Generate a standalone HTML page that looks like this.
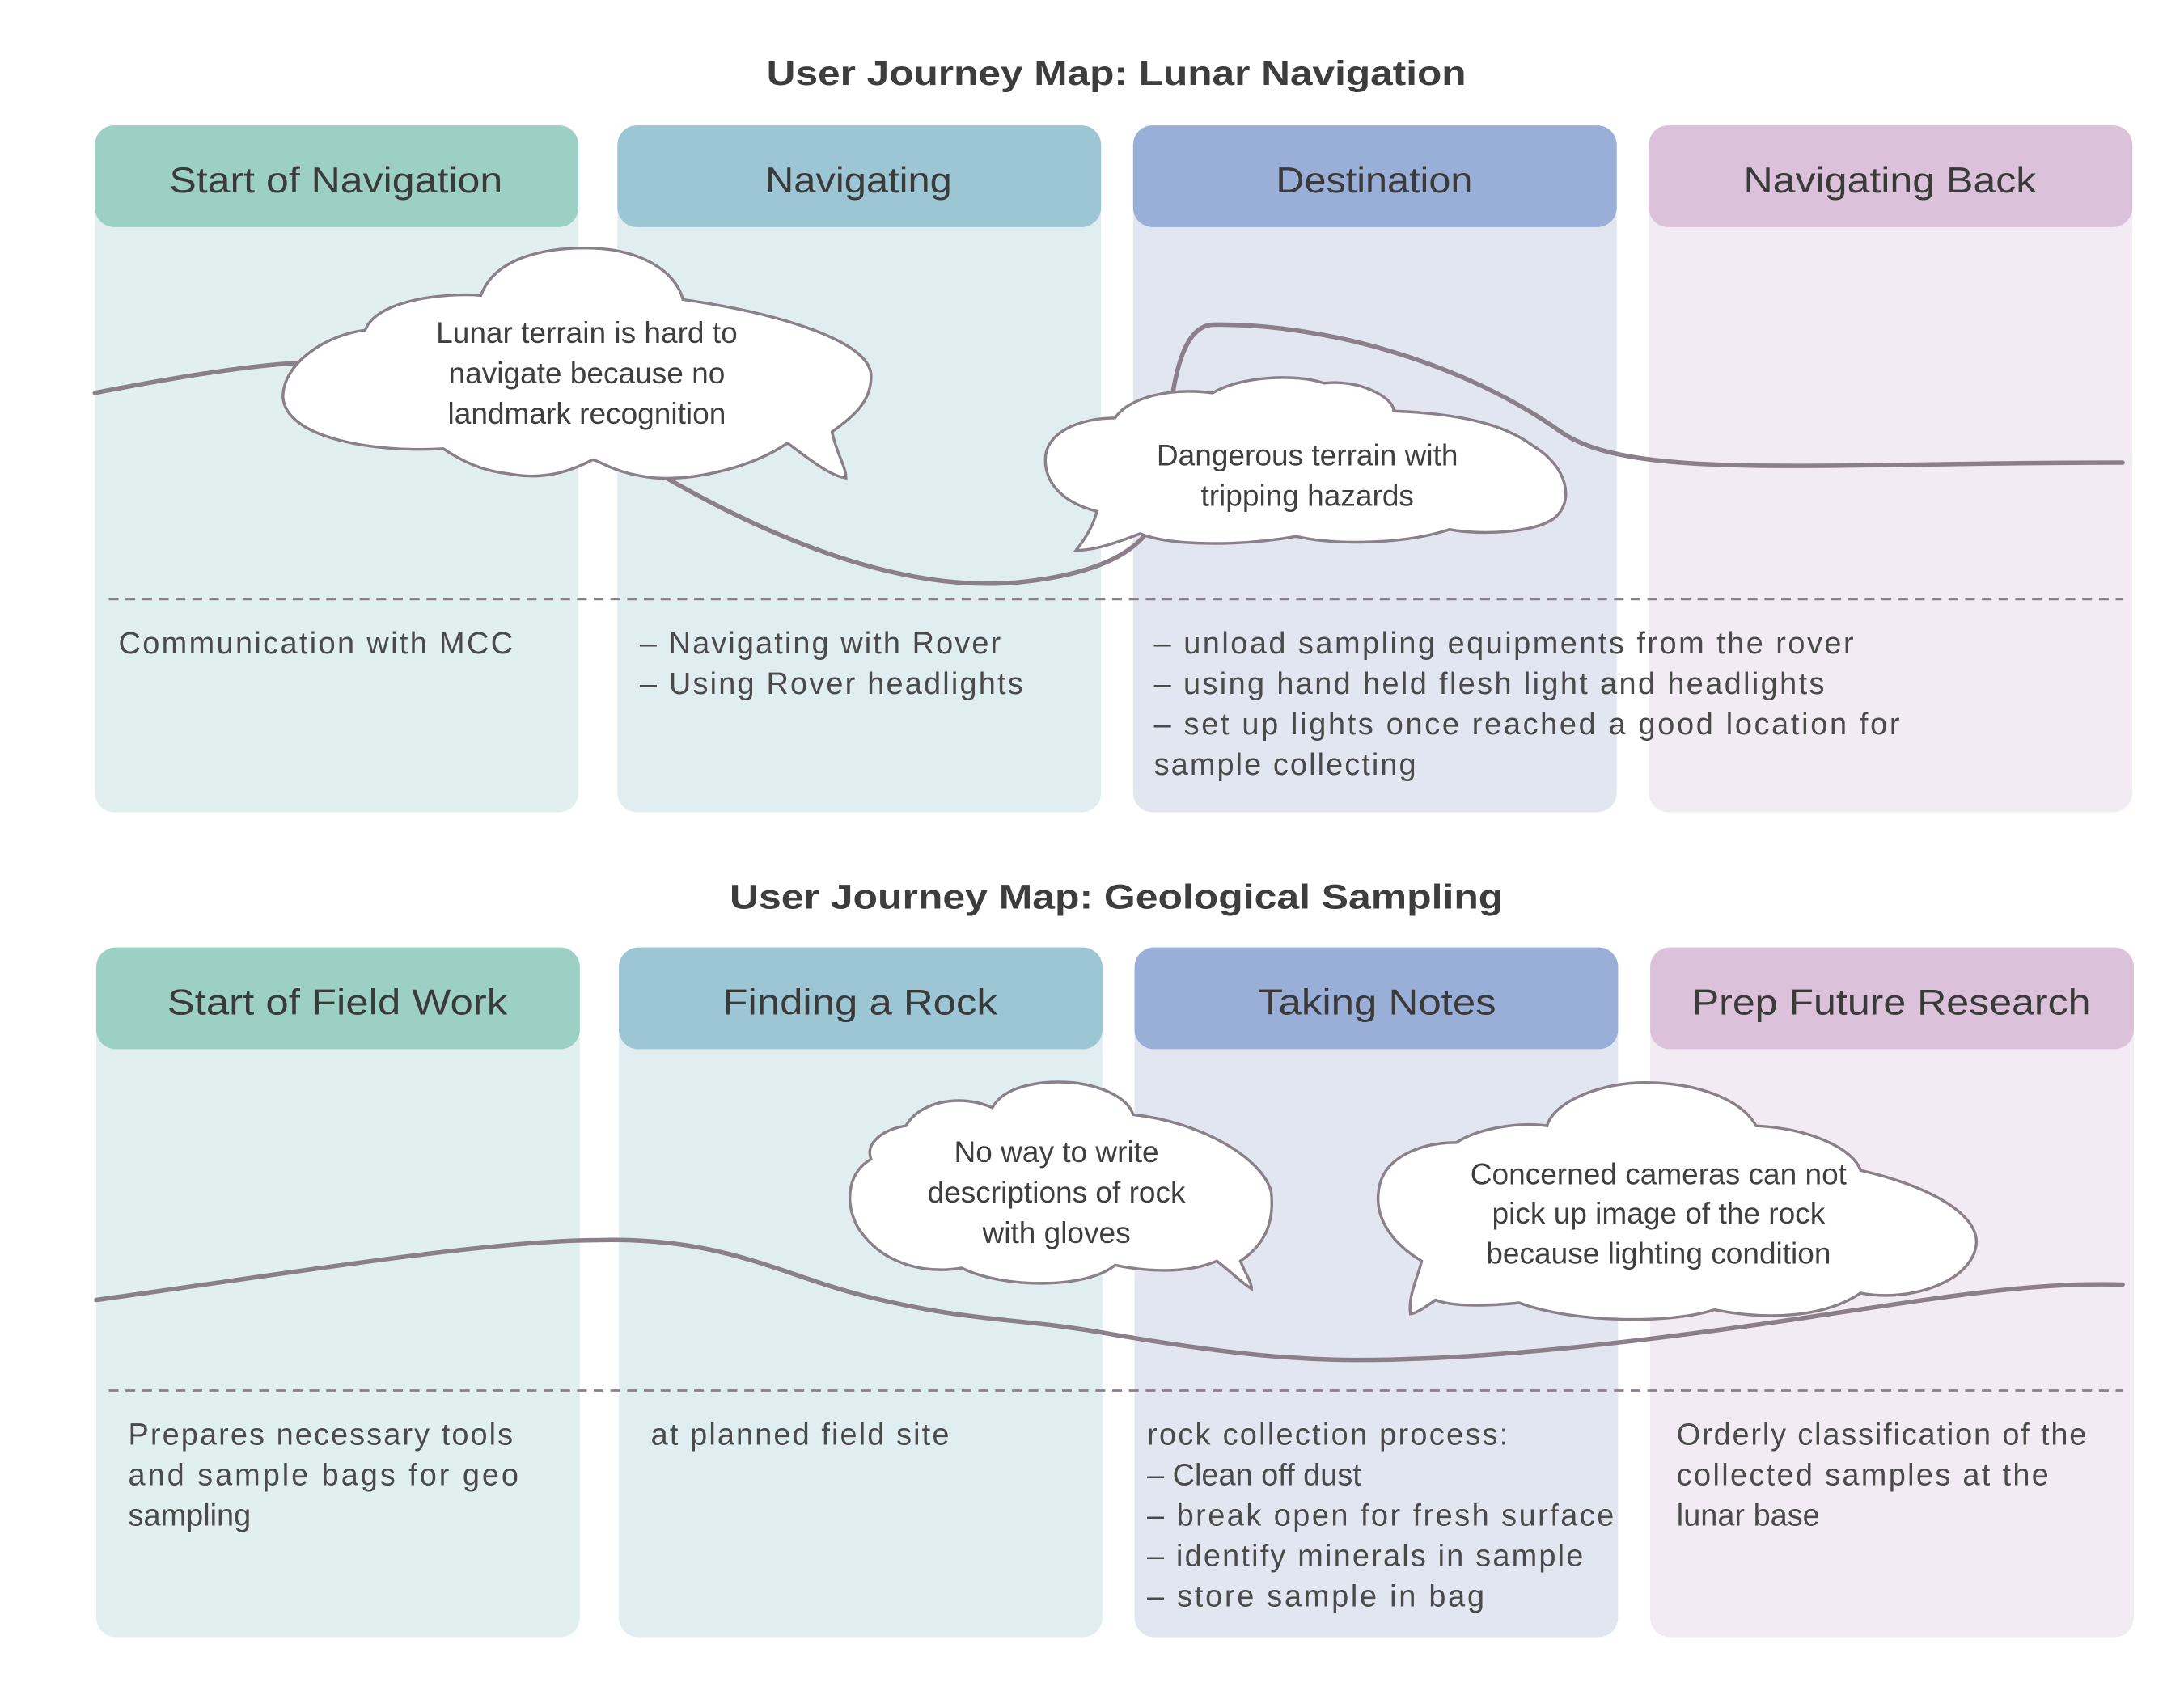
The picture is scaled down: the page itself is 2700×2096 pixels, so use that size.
<!DOCTYPE html>
<html><head><meta charset="utf-8"><style>
html,body{margin:0;padding:0;background:#fff;}
svg{display:block;}
text{font-family:"Liberation Sans",sans-serif;}
.t{font-weight:bold;font-size:25px;fill:#3d3d3d;text-anchor:middle;}
.h{font-size:26px;fill:#3a3a3a;text-anchor:middle;}
.b{font-size:22px;fill:#4a4a4a;}
.c{font-size:21.5px;fill:#3f3f3f;text-anchor:middle;}
.cv{fill:none;stroke:#8b7f8a;stroke-width:3.2;stroke-linecap:round;}
.cl{fill:#fff;stroke:#8b7f8a;stroke-width:2;}
.d{stroke:#8b7f8a;stroke-width:1.6;stroke-dasharray:7,5;}
</style></head><body>
<svg width="2700" height="2096" viewBox="0 0 1567 1216.5" xmlns="http://www.w3.org/2000/svg">
<!-- Row 1 -->
<text class="t" x="801" y="61" textLength="502" lengthAdjust="spacingAndGlyphs">User Journey Map: Lunar Navigation</text>
<rect x="68" y="90" width="347" height="493" rx="14" fill="#e1f0ee"/>
<rect x="443" y="90" width="347" height="493" rx="14" fill="#e0edf1"/>
<rect x="813" y="90" width="347" height="493" rx="14" fill="#e1e6f1"/>
<rect x="1183" y="90" width="347" height="493" rx="14" fill="#f2ebf3"/>
<rect x="68" y="90" width="347" height="73" rx="14" fill="#9dd0c4"/>
<rect x="443" y="90" width="347" height="73" rx="14" fill="#9dc6d4"/>
<rect x="813" y="90" width="347" height="73" rx="14" fill="#99afd8"/>
<rect x="1183" y="90" width="347" height="73" rx="14" fill="#dbc2da"/>
<text class="h" x="241" y="138" textLength="239" lengthAdjust="spacingAndGlyphs">Start of Navigation</text>
<text class="h" x="616" y="138" textLength="134" lengthAdjust="spacingAndGlyphs">Navigating</text>
<text class="h" x="986" y="138" textLength="141" lengthAdjust="spacingAndGlyphs">Destination</text>
<text class="h" x="1356" y="138" textLength="210" lengthAdjust="spacingAndGlyphs">Navigating Back</text>
<line class="d" x1="78" y1="430" x2="1523" y2="430"/>
<path class="cv" d="M68,282 C130,270 180,262 220,260 C300,255 400,300 478,343 C560,390 650,425 730,418 C790,412 820,395 830,370 C840,330 835,235 870,233 C950,232 1050,260 1120,310 C1170,345 1300,332 1523,332"/>
<path class="cl" d="M262,237 C270,215 320,210 345,212 C355,185 390,178 420,178 C460,178 485,195 490,215 C560,225 625,245 625,270 C625,290 610,300 597,310 C600,325 607,335 607,343 C595,342 575,325 565,318 C540,335 500,345 470,343 C440,340 430,330 425,330 C410,338 390,345 365,340 C345,338 330,330 318,322 C270,325 205,315 203,285 C203,260 235,240 262,237 Z"/>
<text class="c" x="421" y="246">Lunar terrain is hard to</text>
<text class="c" x="421" y="275">navigate because no</text>
<text class="c" x="421" y="304">landmark recognition</text>
<path class="cl" d="M800,300 C810,285 840,278 870,282 C890,270 930,268 950,275 C975,272 1000,285 1000,295 C1050,297 1080,305 1100,320 C1125,335 1130,360 1115,372 C1100,383 1060,384 1040,380 C1010,390 960,392 930,385 C890,392 840,392 818,383 C800,390 785,395 772,395 C780,385 785,375 787,367 C760,360 750,345 750,330 C750,310 775,300 800,300 Z"/>
<text class="c" x="938" y="334">Dangerous terrain with</text>
<text class="c" x="938" y="363">tripping hazards</text>
<text class="b" x="85" y="469" textLength="283" lengthAdjust="spacing">Communication with MCC</text>
<text class="b" x="459" y="469" textLength="259" lengthAdjust="spacing">– Navigating with Rover</text>
<text class="b" x="459" y="498" textLength="275" lengthAdjust="spacing">– Using Rover headlights</text>
<text class="b" x="828" y="469" textLength="502" lengthAdjust="spacing">– unload sampling equipments from the rover</text>
<text class="b" x="828" y="498" textLength="481" lengthAdjust="spacing">– using hand held flesh light and headlights</text>
<text class="b" x="828" y="527" textLength="535" lengthAdjust="spacing">– set up lights once reached a good location for</text>
<text class="b" x="828" y="556" textLength="188" lengthAdjust="spacing">sample collecting</text>

<!-- Row 2 -->
<text class="t" x="801" y="652" textLength="555" lengthAdjust="spacingAndGlyphs">User Journey Map: Geological Sampling</text>
<rect x="69" y="680" width="347" height="495" rx="14" fill="#e1f0ee"/>
<rect x="444" y="680" width="347" height="495" rx="14" fill="#e0edf1"/>
<rect x="814" y="680" width="347" height="495" rx="14" fill="#e1e6f1"/>
<rect x="1184" y="680" width="347" height="495" rx="14" fill="#f2ebf3"/>
<rect x="69" y="680" width="347" height="73" rx="14" fill="#9dd0c4"/>
<rect x="444" y="680" width="347" height="73" rx="14" fill="#9dc6d4"/>
<rect x="814" y="680" width="347" height="73" rx="14" fill="#99afd8"/>
<rect x="1184" y="680" width="347" height="73" rx="14" fill="#dbc2da"/>
<text class="h" x="242" y="728" textLength="244" lengthAdjust="spacingAndGlyphs">Start of Field Work</text>
<text class="h" x="617" y="728" textLength="197" lengthAdjust="spacingAndGlyphs">Finding a Rock</text>
<text class="h" x="988" y="728" textLength="171" lengthAdjust="spacingAndGlyphs">Taking Notes</text>
<text class="h" x="1357" y="728" textLength="286" lengthAdjust="spacingAndGlyphs">Prep Future Research</text>
<line class="d" x1="78" y1="998" x2="1523" y2="998"/>
<path class="cv" d="M69,933 C200,915 350,890 430,890 C520,888 560,915 620,930 C700,950 730,945 800,958 C900,975 950,978 1020,975 C1100,972 1200,960 1300,945 C1400,930 1460,920 1523,922"/>
<path class="cl" d="M650,808 C660,790 690,785 712,795 C720,780 745,775 770,777 C795,780 810,790 813,800 C860,805 905,830 912,855 C915,880 905,895 890,905 C893,913 898,920 898,925 C890,920 880,910 873,905 C850,915 820,912 800,908 C780,925 720,925 690,910 C660,915 630,905 615,880 C605,860 610,840 625,832 C620,820 635,810 650,808 Z"/>
<text class="c" x="758" y="834">No way to write</text>
<text class="c" x="758" y="863">descriptions of rock</text>
<text class="c" x="758" y="892">with gloves</text>
<path class="cl" d="M1045,820 C1060,810 1090,805 1110,808 C1115,790 1150,777 1180,777 C1220,777 1250,790 1260,808 C1300,810 1330,825 1335,840 C1380,850 1420,870 1418,893 C1415,920 1370,935 1335,928 C1310,945 1270,948 1230,940 C1200,950 1130,950 1090,935 C1060,938 1040,937 1030,933 C1020,940 1015,943 1012,943 C1010,930 1018,915 1020,905 C995,890 985,870 990,850 C995,830 1020,820 1045,820 Z"/>
<text class="c" x="1190" y="850">Concerned cameras can not</text>
<text class="c" x="1190" y="878">pick up image of the rock</text>
<text class="c" x="1190" y="907">because lighting condition</text>
<text class="b" x="92" y="1037" textLength="276" lengthAdjust="spacing">Prepares necessary tools</text>
<text class="b" x="92" y="1066" textLength="280" lengthAdjust="spacing">and sample bags for geo</text>
<text class="b" x="92" y="1095">sampling</text>
<text class="b" x="467" y="1037" textLength="214" lengthAdjust="spacing">at planned field site</text>
<text class="b" x="823" y="1037" textLength="259" lengthAdjust="spacing">rock collection process:</text>
<text class="b" x="823" y="1066">– Clean off dust</text>
<text class="b" x="823" y="1095" textLength="335" lengthAdjust="spacing">– break open for fresh surface</text>
<text class="b" x="823" y="1124" textLength="313" lengthAdjust="spacing">– identify minerals in sample</text>
<text class="b" x="823" y="1153" textLength="242" lengthAdjust="spacing">– store sample in bag</text>
<text class="b" x="1203" y="1037" textLength="294" lengthAdjust="spacing">Orderly classification of the</text>
<text class="b" x="1203" y="1066" textLength="267" lengthAdjust="spacing">collected samples at the</text>
<text class="b" x="1203" y="1095">lunar base</text>
</svg>
</body></html>
